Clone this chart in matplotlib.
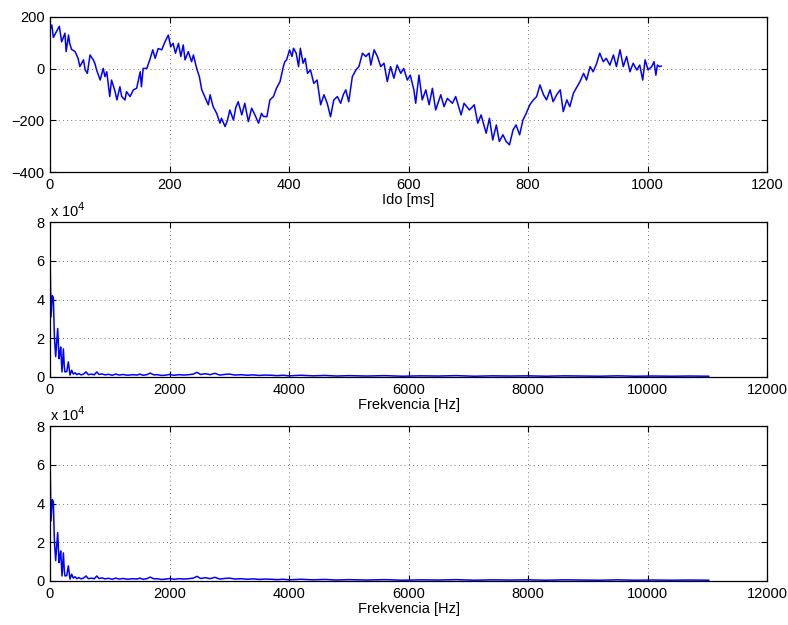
import matplotlib
matplotlib.use("Agg")
import matplotlib.pyplot as plt
from matplotlib.ticker import FuncFormatter

plt.rcParams['font.family'] = ['Liberation Sans', 'DejaVu Sans']

# ---- time signal ----
time_ms = [0, 3, 5.6, 10, 15.6, 19.5, 25, 27, 31, 33, 36, 42, 47, 50, 56, 59, 62.5, 67, 72.5, 75, 78,
           84, 89, 92, 95, 100, 103, 109, 112, 117, 120, 125.5, 128, 134, 139.5, 145, 151, 153, 156, 162,
           167, 172, 176, 181, 187, 192.5, 198, 202, 206, 210, 215, 219, 223, 226, 231.5, 237, 240, 245.5,
           250, 254, 259, 265, 268, 273, 279, 284.5, 287, 293, 297, 301, 307, 311, 315, 321, 326, 332,
           337.5, 343, 349, 354, 357, 363, 368, 374, 379, 385, 390.5, 393, 396, 401, 405, 407.5, 412, 416,
           419, 423.5, 427, 431, 436, 441.5, 447, 453, 458.5, 464, 469.5, 475, 481, 486.5, 491, 495, 500,
           506, 512, 517, 523, 528.5, 534, 537, 542.5, 548, 553.5, 559, 564.5, 570, 575.5, 581, 587, 592,
           598, 603, 609, 612, 617.5, 623, 629, 634.5, 640, 645.5, 654, 659.5, 665, 673.5, 679, 688, 693,
           702, 710, 716, 721.5, 730, 735.5, 741, 747, 752, 758, 763.5, 769, 775, 780, 786, 791.5, 797,
           803, 809, 814.5, 820, 826, 831, 837, 842, 848, 854, 859, 865, 870, 876, 882, 887, 893, 898,
           904, 909, 915, 920, 926, 931, 937, 943, 948, 954, 959.5, 965, 970.7, 976, 982, 987, 992, 996,
           1001, 1007, 1011, 1014, 1016.5, 1020, 1023]
amplitude = [150, 169, 121, 140, 164, 104, 137, 66, 130, 98, 75, 66, 40, 8, 34, -5, -18, 53, 34, 21, -5,
             -44, 1, -31, -12, -108, -44, -89, -121, -70, -108, -121, -89, -108, -82, -76, -12, -70, 1, 1,
             34, 73, 40, 78, 73, 104, 130, 85, 98, 60, 98, 47, 92, 34, 66, 27, 53, 1,
             -31, -82, -108, -140, -101, -147, -173, -211, -192, -224, -200, -160, -199, -150, -128, -179, -134, -205,
             -153, -179, -211, -173, -185, -186, -121, -108, -76, -50, 8, 27, 34, 73, 47, 79, 60, 8,
             79, 21, 40, -18, -5, -57, -44, -140, -101, -134, -186, -121, -108, -134, -100, -82, -128,
             -31, -5, 8, 60, 47, 60, 14, 73, 47, 8, 21, -50, 8, -37, 14, -18, 1,
             -44, -25, -82, -134, -25, -121, -82, -140, -76, -160, -101, -147, -115, -134, -108, -179, -134,
             -160, -140, -211, -179, -250, -192, -276, -218, -282, -256, -282, -295, -237, -218, -256, -199, -173,
             -140, -121, -108, -63, -101, -121, -82, -128, -101, -82, -166, -121, -147, -95, -70, -50, -18, -44,
             8, -12, 21, 60, 27, 40, 14, 53, 8, 73, 8, 47, -12, 21, -5, 14, -44, 34,
             -5, 8, 27, -25, 14, 8, 10]

# ---- magnitude spectrum ----
freq_hz = [0, 17, 39, 56, 73, 95, 112, 129, 151, 168, 179, 201, 224, 240, 251, 280, 307, 335, 363, 390,
           419, 450, 480, 520, 560, 604, 640, 700, 740, 783, 820, 870, 920, 980, 1040, 1100, 1160, 1220,
           1300, 1380, 1460, 1500, 1560, 1620, 1677, 1740, 1800, 1860, 1920, 2000, 2080, 2160, 2240, 2320,
           2400, 2460, 2520, 2600, 2680, 2760, 2840, 2920, 3000, 3100, 3200, 3300, 3400, 3500, 3600, 3700,
           3800, 3900, 4000, 4200, 4400, 4600, 4800, 5000, 5300, 5600, 5900, 6200, 6500, 6800, 7100, 7400,
           7700, 8000, 8300, 8600, 8900, 9200, 9500, 9800, 10100, 10400, 10700, 11025]
magnitude = [65000, 31000, 42000, 41000, 21000, 10500, 18000, 25000, 9500, 13000, 15500, 2600, 14500, 5000,
             2600, 2800, 7800, 1000, 3500, 1500, 2200, 1200, 1800, 1100, 1500, 2600, 1200, 1500, 1100, 2600,
             1300, 1600, 1100, 1400, 900, 1500, 1000, 1300, 900, 1200, 1000, 1500, 900, 1200, 2000, 1100,
             1200, 800, 900, 1300, 900, 1200, 1000, 1200, 1500, 2400, 1300, 1700, 1200, 1900, 1000, 1300,
             1500, 1000, 1200, 900, 1100, 800, 1000, 900, 700, 900, 600, 900, 600, 800, 500, 700, 500, 700,
             400, 600, 500, 700, 400, 600, 500, 600, 400, 600, 500, 400, 600, 400, 500, 400, 500, 400]

x1_ticks = [0, 200, 400, 600, 800, 1000, 1200]
y1_ticks = [-400, -200, 0, 200]
x2_ticks = [0, 2000, 4000, 6000, 8000, 10000, 12000]
y2_ticks = [0, 20000, 40000, 60000, 80000]

W, H = 788, 625
fig = plt.figure(figsize=(W / 100, H / 100), dpi=100)

def style(ax):
    ax.grid(True, linestyle=(0, (1, 4)), color='black', linewidth=0.6, alpha=0.7)
    ax.tick_params(direction='in', top=True, right=True, length=4, width=0.8,
                   labelsize=10.5, pad=4)
    for s in ax.spines.values():
        s.set_linewidth(0.9)

left, width = 50 / W, 717 / W
ax1 = fig.add_axes([left, (H - 172) / H, width, 155 / H])
ax1.plot(time_ms, amplitude, color='#0000ff', linewidth=1.1)
ax1.set_xlim(0, 1200)
ax1.set_ylim(-400, 200)
ax1.set_xticks(x1_ticks)
ax1.set_yticks(y1_ticks)
ax1.set_yticklabels([str(v).replace('-', '\u2212') for v in y1_ticks])
ax1.set_xlabel('Ido [ms]', fontsize=10.5, labelpad=1)
style(ax1)

fmt = FuncFormatter(lambda v, p: f"{v / 1e4:g}")
for top in (222, 426):
    ax = fig.add_axes([left, (H - top - 155) / H, width, 155 / H])
    ax.plot(freq_hz, magnitude, color='#0000ff', linewidth=1.1)
    ax.set_xlim(0, 12000)
    ax.set_ylim(0, 80000)
    ax.set_xticks(x2_ticks)
    ax.set_yticks(y2_ticks)
    ax.yaxis.set_major_formatter(fmt)
    ax.set_xlabel('Frekvencia [Hz]', fontsize=10.5, labelpad=1)
    ax.text(0.0, 1.015, 'x 10$^{4}$', transform=ax.transAxes, fontsize=10.5,
            ha='left', va='bottom')
    style(ax)

fig.savefig('out.png', dpi=100)
